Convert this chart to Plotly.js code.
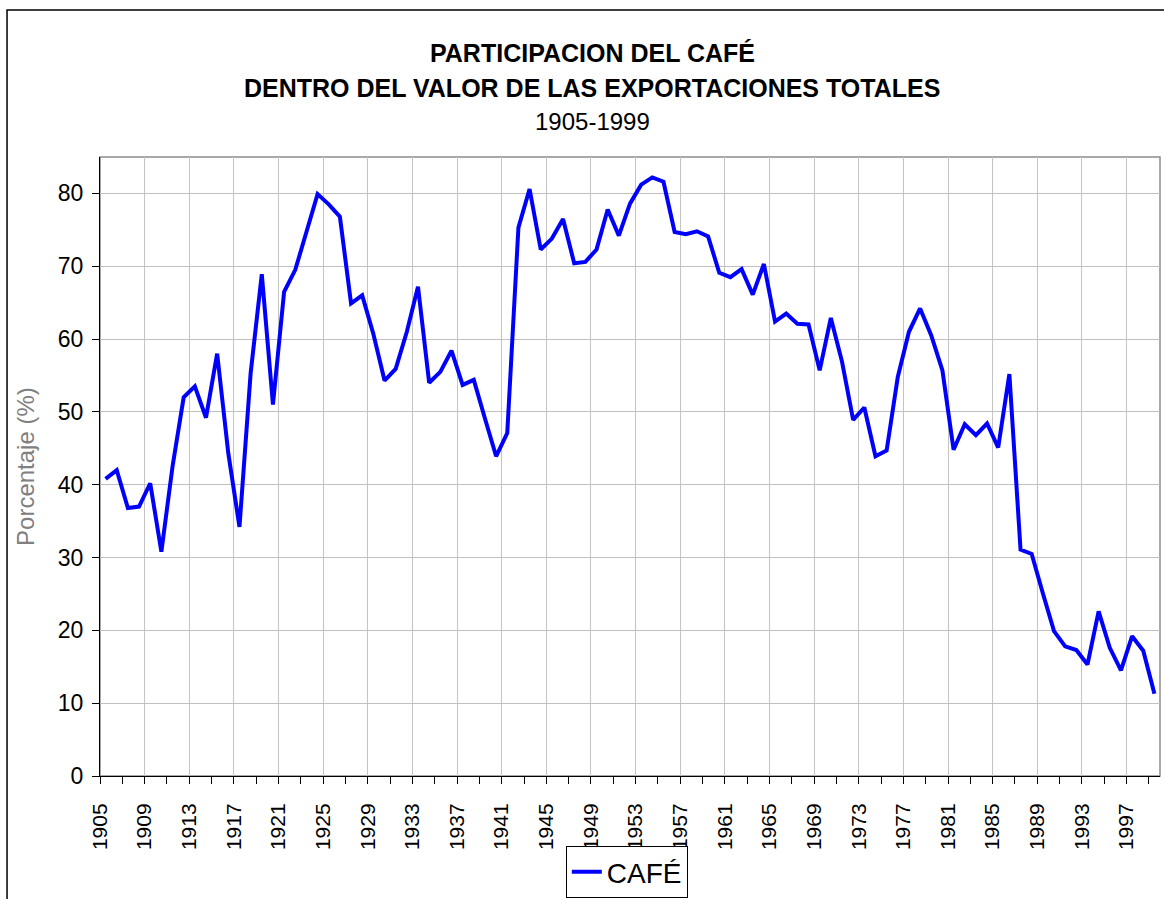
<!DOCTYPE html>
<html>
<head>
<meta charset="utf-8">
<script src="https://cdn.plot.ly/plotly-3.0.1.min.js"></script>
<style>html,body{margin:0;padding:0;background:#fff;}#chart{width:1164px;height:899px;}</style>
</head>
<body>
<div id="chart"></div>
<script>
const years = [1905,1906,1907,1908,1909,1910,1911,1912,1913,1914,1915,1916,1917,1918,1919,1920,
1921,1922,1923,1924,1925,1926,1927,1928,1929,1930,1931,1932,1933,1934,1935,1936,1937,1938,1939,1940,
1941,1942,1943,1944,1945,1946,1947,1948,1949,1950,1951,1952,1953,1954,1955,1956,1957,1958,1959,1960,
1961,1962,1963,1964,1965,1966,1967,1968,1969,1970,1971,1972,1973,1974,1975,1976,1977,1978,1979,1980,
1981,1982,1983,1984,1985,1986,1987,1988,1989,1990,1991,1992,1993,1994,1995,1996,1997,1998,1999];

const cafe = [40.8,42.0,36.8,37.0,40.2,30.8,42.5,52.0,53.5,49.2,58.0,44.3,34.2,55.3,68.9,51.0,
66.5,69.5,74.7,79.9,78.5,76.8,64.9,66.0,60.7,54.3,55.9,61.0,67.2,54.0,55.5,58.4,53.7,54.4,49.1,43.9,
47.1,75.3,80.6,72.3,73.8,76.5,70.4,70.6,72.3,77.8,74.2,78.6,81.2,82.2,81.6,74.7,74.4,74.8,74.1,69.1,
68.5,69.6,66.1,70.3,62.4,63.5,62.1,62.0,55.7,62.9,56.9,48.9,50.6,43.9,44.7,54.8,61.0,64.2,60.5,55.7,
44.8,48.3,46.8,48.4,45.1,55.2,31.1,30.5,25.1,19.9,17.8,17.3,15.3,22.6,17.6,14.5,19.2,17.2,11.3];

const xTickLabels = ["1905","1909","1913","1917","1921","1925","1929","1933","1937","1941","1945",
"1949","1953","1957","1961","1965","1969","1973","1977","1981","1985","1989","1993","1997"];
const yTicks = [0,10,20,30,40,50,60,70,80];

const titleLine1 = "PARTICIPACION DEL CAFÉ";
const titleLine2 = "DENTRO DEL VALOR DE LAS EXPORTACIONES TOTALES";
const titleLine3 = "1905-1999";
const yTitle = "Porcentaje (%)";
const seriesName = "CAFÉ";

// category boundaries (Excel-style: labels sit on left boundary of category)
const majorVals = xTickLabels.map(s => Number(s) - 0.5);
const minorVals = [];
for (let i = 0; i < years.length; i += 2) minorVals.push(years[i] - 0.5);
minorVals.push(years[years.length - 1] - 0.5);

const F = "Liberation Sans, Arial, sans-serif";

const trace = {
  x: years, y: cafe, type: 'scatter', mode: 'lines', name: seriesName,
  line: {color: '#0000ff', width: 4}
};

const layout = {
  width: 1164, height: 899,
  margin: {l: 100, r: 4, t: 157, b: 123, autoexpand: false},
  paper_bgcolor: '#ffffff', plot_bgcolor: '#ffffff',
  showlegend: true,
  legend: {
    orientation: 'h', x: 0.497, xanchor: 'center', y: -0.113, yanchor: 'top',
    font: {family: F, size: 28, color: '#000'},
    bordercolor: '#000', borderwidth: 1, bgcolor: '#fff'
  },
  xaxis: {
    range: [years[0] - 0.5, years[years.length - 1] + 0.5],
    automargin: false,
    tickmode: 'array', tickvals: majorVals, ticktext: xTickLabels,
    tickangle: -90, ticks: 'outside', ticklen: 7, tickcolor: '#000', tickwidth: 1,
    ticklabelstandoff: 11,
    tickfont: {family: F, size: 21, color: '#000'},
    showgrid: true, gridcolor: '#c4c4c4', gridwidth: 1,
    showline: true, linecolor: '#000', linewidth: 1,
    zeroline: false, fixedrange: true,
    minor: {tickmode: 'array', tickvals: minorVals, ticks: 'outside', ticklen: 7, tickcolor: '#000', showgrid: false}
  },
  xaxis2: {
    overlaying: 'x', matches: 'x', anchor: 'y', side: 'bottom', automargin: false,
    range: [years[0] - 0.5, years[years.length - 1] + 0.5],
    tickmode: 'array', tickvals: minorVals, ticks: 'inside', ticklen: 7, tickcolor: '#000',
    showticklabels: false, showgrid: false, showline: false, zeroline: false
  },
  yaxis: {
    range: [0, 85], tickmode: 'array', tickvals: yTicks, automargin: false,
    ticks: 'outside', ticklen: 7, tickcolor: '#000',
    ticklabelstandoff: 4,
    tickfont: {family: F, size: 23, color: '#000'},
    showgrid: true, gridcolor: '#c0c0c0', gridwidth: 1,
    showline: true, linecolor: '#000', linewidth: 1,
    zeroline: false, fixedrange: true
  },
  shapes: [
    {type: 'rect', xref: 'paper', yref: 'paper', x0: 0, x1: 1, y0: 0, y1: 1,
     line: {color: '#8c8c8c', width: 1.5}, layer: 'below'},
    {type: 'rect', xref: 'paper', yref: 'paper', x0: -0.0877, x1: 1.02, y0: -0.25, y1: 1.2375,
     line: {color: '#000', width: 1.5}, layer: 'below'}
  ],
  annotations: [
    {text: '<b>' + titleLine1 + '</b>', xref: 'paper', yref: 'paper', x: 0.4642, y: 1.168,
     xanchor: 'center', yanchor: 'middle', showarrow: false, font: {family: F, size: 25, color: '#000'}},
    {text: '<b>' + titleLine2 + '</b>', xref: 'paper', yref: 'paper', x: 0.4642, y: 1.1115,
     xanchor: 'center', yanchor: 'middle', showarrow: false, font: {family: F, size: 25, color: '#000'}},
    {text: titleLine3, xref: 'paper', yref: 'paper', x: 0.4642, y: 1.058,
     xanchor: 'center', yanchor: 'middle', showarrow: false, font: {family: F, size: 24, color: '#000'}},
    {text: yTitle, xref: 'paper', yref: 'paper', x: -0.0708, y: 0.5008, textangle: -90,
     xanchor: 'center', yanchor: 'middle', showarrow: false, font: {family: F, size: 24, color: '#808080'}}
  ]
};

Plotly.newPlot('chart', [trace], layout, {displayModeBar: false, staticPlot: true});
</script>
</body>
</html>
